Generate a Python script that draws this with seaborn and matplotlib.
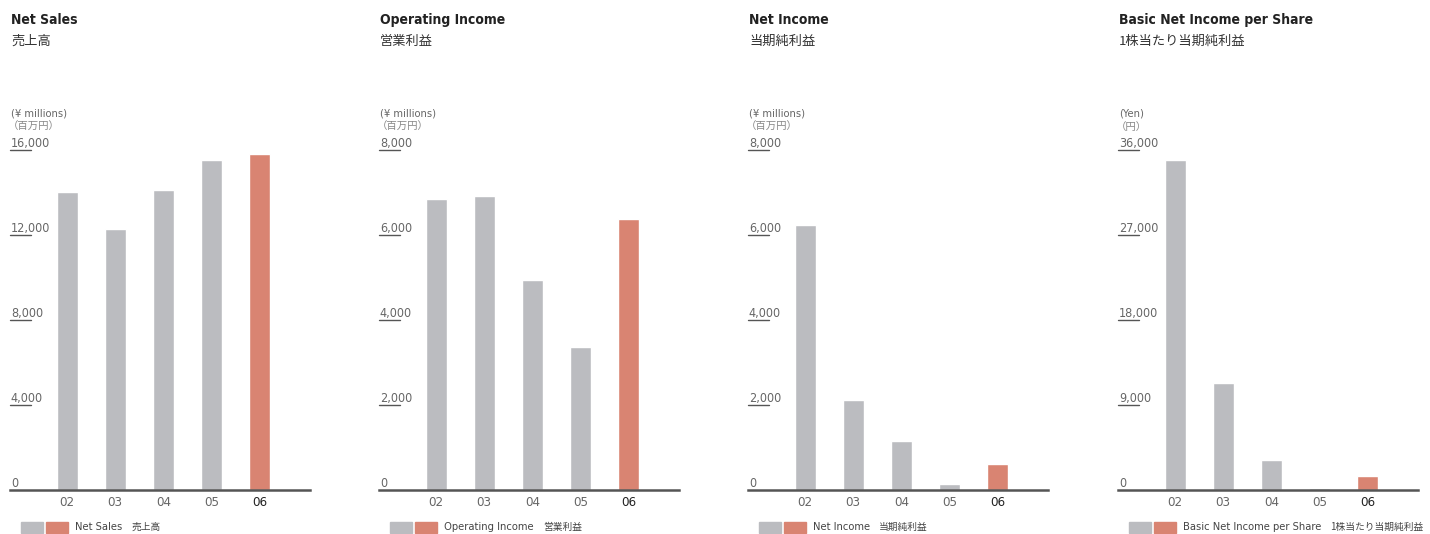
import matplotlib
matplotlib.use("Agg")
import matplotlib.pyplot as plt
import matplotlib.font_manager as fm
from matplotlib.patches import Rectangle
import seaborn as sns
import pandas as pd

sns.set_style("white")

# look for a condensed latin face (reference uses a condensed grotesque)
cond_name, cond_stretch = None, "normal"
for f in fm.fontManager.ttflist:
    nm = f.name
    st = str(f.stretch)
    if ("Narrow" in nm or "Condensed" in nm or st in ("condensed", "semi-condensed")) \
            and "CJK" not in nm and "Mono" not in nm:
        cond_name = nm
        cond_stretch = st if st in ("condensed", "semi-condensed") else "normal"
        break
latin = cond_name if cond_name else "Liberation Sans"
FAM = [latin, "Noto Sans CJK JP", "DejaVu Sans"]
JP = ["Noto Sans CJK JP", "DejaVu Sans"]
plt.rcParams["font.family"] = FAM
plt.rcParams["font.stretch"] = cond_stretch
k = 1.0 if cond_name else 0.86

# ---- data ----
years = ["02", "03", "04", "05", "06"]
net_sales = [14020, 12280, 14120, 15530, 15810]
operating_income = [6850, 6920, 4940, 3370, 6380]
net_income = [6240, 2120, 1150, 140, 610]
eps = [34940, 11330, 3180, 220, 1480]

titles_en = ["Net Sales", "Operating Income", "Net Income", "Basic Net Income per Share"]
titles_jp = ["売上高", "営業利益", "当期純利益", "1株当たり当期純利益"]
units_en = ["(¥ millions)", "(¥ millions)", "(¥ millions)", "(Yen)"]
units_jp = ["（百万円）", "（百万円）", "（百万円）", "（円）"]
yticks_list = [
    [0, 4000, 8000, 12000, 16000],
    [0, 2000, 4000, 6000, 8000],
    [0, 2000, 4000, 6000, 8000],
    [0, 9000, 18000, 27000, 36000],
]
series = [net_sales, operating_income, net_income, eps]

GRAY = "#bbbcc0"
SALMON = "#d98472"
AXIS = "#555555"
TICKTXT = "#666666"

W, H = 1430, 534
fig = plt.figure(figsize=(W / 100, H / 100), dpi=100)

panel_left = [10, 379, 748, 1118]
ax_w = 300
base_y = 490
top_y = 150

for i in range(4):
    L = panel_left[i]
    ax = fig.add_axes([L / W, (H - base_y) / H, ax_w / W, (base_y - top_y) / H])
    df = pd.DataFrame({"year": years, "value": series[i]})
    sns.barplot(data=df, x="year", y="value", hue="year",
                palette=[GRAY] * 4 + [SALMON], width=0.44,
                legend=False, ax=ax, saturation=1)
    ymax = yticks_list[i][-1]
    ax.set_ylim(0, ymax)
    ax.set_xlim(-1.19, 5.05)
    for s in ["top", "right", "left"]:
        ax.spines[s].set_visible(False)
    ax.spines["bottom"].set_color(AXIS)
    ax.spines["bottom"].set_linewidth(1.8)
    ax.set_xlabel("")
    ax.set_ylabel("")
    ax.set_yticks([])
    ax.tick_params(axis="x", length=0, pad=4, labelsize=9.5 * k)
    for j, t in enumerate(ax.get_xticklabels()):
        t.set_color("#222222" if j == 4 else TICKTXT)
    trans = ax.get_yaxis_transform()
    for v in yticks_list[i]:
        ax.text(0.003, v + ymax * 0.001, f"{v:,}", transform=trans, ha="left", va="bottom",
                fontsize=9 * k, color=TICKTXT)
        if v != 0:
            ax.plot([0, 0.07], [v, v], transform=trans, color=AXIS, lw=1.0, clip_on=False)

    # titles
    x0 = (L + 1) / W
    fig.text(x0, 1 - 20 / H, titles_en[i], fontsize=10 * k, fontweight="bold",
             color="#222222", va="center", ha="left")
    fig.text(x0, 1 - 41 / H, titles_jp[i], fontsize=9.5, color="#333333",
             va="center", ha="left", family=JP)
    fig.text(x0, 1 - 114 / H, units_en[i], fontsize=8 * k, color=TICKTXT,
             va="center", ha="left")
    fig.text(x0 - 3 / W, 1 - 127 / H, units_jp[i], fontsize=7.5, color="#888888",
             va="center", ha="left", family=JP)

    # legend
    lx = L + 11
    fig.patches.append(Rectangle((lx / W, 1 - 533 / H), 22 / W, 11 / H,
                                 transform=fig.transFigure, color=GRAY))
    fig.patches.append(Rectangle(((lx + 25) / W, 1 - 533 / H), 22 / W, 11 / H,
                                 transform=fig.transFigure, color=SALMON))
    t1 = fig.text((lx + 54) / W, 1 - 527 / H, titles_en[i], fontsize=8 * k,
                  color="#444444", va="center", ha="left")
    fig.canvas.draw()
    bb = t1.get_window_extent()
    fig.text((bb.x1 + 9) / W, 1 - 527 / H, titles_jp[i], fontsize=7.0,
             color="#444444", va="center", ha="left", family=JP)

fig.savefig("out.png", dpi=100)
